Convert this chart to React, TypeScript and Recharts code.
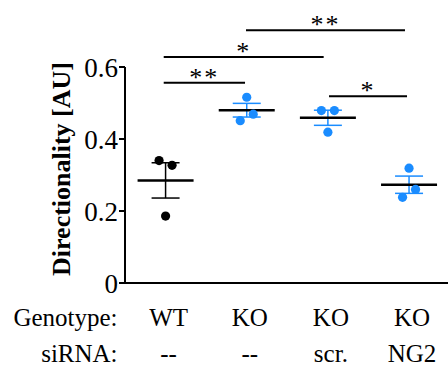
import { ScatterChart, Scatter, XAxis, YAxis, ErrorBar, ReferenceLine } from 'recharts';

const groups = [1, 2, 3, 4];
const genotype = ['WT', 'KO', 'KO', 'KO'];
const sirna = ['--', '--', 'scr.', 'NG2'];
const meanValues = [0.285, 0.48, 0.459, 0.273];
const semValues = [0.049, 0.019, 0.021, 0.024];

// individual replicates (x = group position with small jitter)
const pointX = [0.92, 1.08, 1.0, 2.0, 2.08, 1.92, 2.92, 3.08, 3.0, 4.0, 4.08, 3.92];
const pointY = [0.34, 0.327, 0.186, 0.516, 0.469, 0.451, 0.479, 0.479, 0.419, 0.319, 0.26, 0.238];

// significance brackets
const bracketFrom = [0.977, 0.977, 1.991, 3.014];
const bracketTo = [1.979, 2.948, 3.95, 3.975];
const bracketY = [0.556, 0.628, 0.702, 0.519];
const bracketMark = ['**', '*', '**', '*'];

const yTicks = [0, 0.2, 0.4, 0.6];

const BLUE = '#1a8cff';
const FONT = 'Liberation Serif, Times New Roman, Times, serif';

const points = pointX.map((x, i) => ({ x, y: pointY[i] }));
const wtPoints = points.filter((p) => p.x < 1.5);
const koPoints = points.filter((p) => p.x >= 1.5);

const means = groups.map((g, i) => ({ x: g, y: meanValues[i], sem: semValues[i] }));
const wtMeans = means.slice(0, 1);
const koMeans = means.slice(1);

const MeanLine = (props: any) => (
  <line x1={props.cx - 28} x2={props.cx + 28} y1={props.cy} y2={props.cy} stroke="#000" strokeWidth={2.5} />
);

const Dot = (color: string) => (props: any) => <circle cx={props.cx} cy={props.cy} r={4.6} fill={color} />;

const GroupTick = (props: any) => {
  const { x, y, index } = props;
  const i = groups.indexOf(props.payload.value);
  return (
    <g style={{ fontFamily: FONT, fontSize: 25 }} fill="#000">
      {index === 0 && (
        <>
          <text x={x - 48} y={y + 43} textAnchor="end">Genotype:</text>
          <text x={x - 48} y={y + 79} textAnchor="end">siRNA:</text>
        </>
      )}
      <text x={x + 3} y={y + 43} textAnchor="middle">{genotype[i]}</text>
      <text x={x + 3} y={y + 79} textAnchor="middle">{sirna[i]}</text>
    </g>
  );
};

export default function App() {
  return (
    <div style={{ position: 'absolute', left: 0, top: 0, background: '#fff', fontFamily: FONT }}>
      <ScatterChart width={448} height={372} margin={{ top: 67, right: 0, bottom: 0, left: 0 }} style={{ fontFamily: FONT }}>
        <XAxis
          type="number"
          dataKey="x"
          domain={[0.5, 4.48]}
          allowDataOverflow
          ticks={groups}
          tickLine={false}
          tickSize={0}
          tickMargin={0}
          height={89}
          axisLine={{ stroke: '#000', strokeWidth: 2 }}
          tick={<GroupTick />}
          interval={0}
        />
        <YAxis
          type="number"
          dataKey="y"
          domain={[0, 0.6]}
          allowDataOverflow
          ticks={yTicks}
          width={125}
          tickSize={6}
          tickMargin={1}
          tickFormatter={(v: number) => (v === 0 ? '0' : v.toFixed(1))}
          tick={{ fontSize: 27, fill: '#000', style: { fontFamily: FONT } }}
          tickLine={{ stroke: '#000', strokeWidth: 2 }}
          axisLine={{ stroke: '#000', strokeWidth: 2 }}
          label={{
            content: (p: any) => {
              const vb = p.viewBox;
              const cx = vb.x + 70;
              const cy = vb.y + vb.height / 2 - 6;
              return (
                <text
                  x={cx}
                  y={cy}
                  transform={`rotate(-90, ${cx}, ${cy})`}
                  textAnchor="middle"
                  style={{ fontFamily: FONT, fontWeight: 'bold', fontSize: 26 }}
                  fill="#000"
                >
                  Directionality [AU]
                </text>
              );
            },
          }}
        />
        <Scatter data={wtMeans} shape={MeanLine} isAnimationActive={false}>
          <ErrorBar dataKey="sem" direction="y" width={14} stroke="#000" strokeWidth={1.5} isAnimationActive={false} />
        </Scatter>
        <Scatter data={koMeans} shape={MeanLine} isAnimationActive={false}>
          <ErrorBar dataKey="sem" direction="y" width={14} stroke={BLUE} strokeWidth={1.5} isAnimationActive={false} />
        </Scatter>
        <Scatter data={wtPoints} shape={Dot('#000')} isAnimationActive={false} />
        <Scatter data={koPoints} shape={Dot(BLUE)} isAnimationActive={false} />
        {bracketMark.map((mark, i) => (
          <ReferenceLine
            key={i}
            segment={[
              { x: bracketFrom[i], y: bracketY[i] },
              { x: bracketTo[i], y: bracketY[i] },
            ]}
            stroke="#000"
            strokeWidth={2}
            ifOverflow="visible"
            label={{
              value: mark,
              position: 'top',
              offset: -3,
              fill: '#000',
              fontSize: 26,
              style: { fontFamily: FONT, letterSpacing: 2 },
            }}
          />
        ))}
      </ScatterChart>
    </div>
  );
}
